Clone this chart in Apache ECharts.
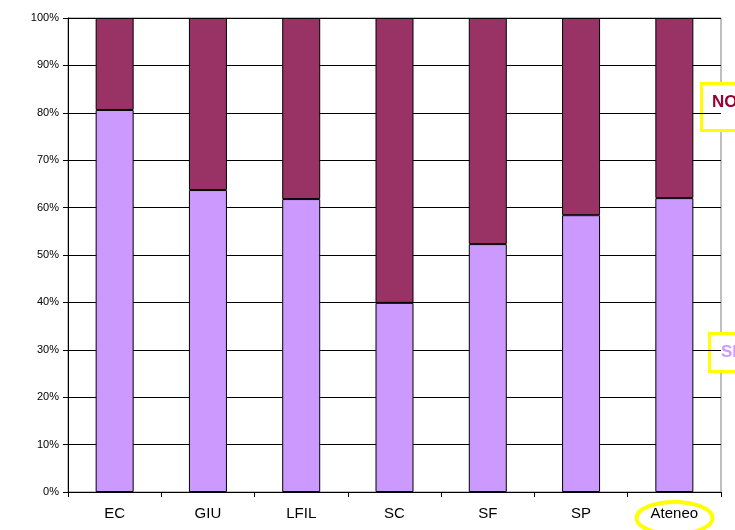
<!DOCTYPE html>
<html>
<head>
<meta charset="utf-8">
<script src="https://cdn.jsdelivr.net/npm/echarts@6/dist/echarts.min.js"></script>
<style>
  html, body { margin: 0; padding: 0; background: #fff; }
  #main { width: 735px; height: 530px; }
</style>
</head>
<body>
<div id="main"></div>
<script>
// categorie (facoltà)
const categories = ['EC', 'GIU', 'LFIL', 'SC', 'SF', 'SP', 'Ateneo']
// percentuali
const siValues = [80.6, 63.7, 61.8, 39.9, 52.3, 58.4, 62.0]
const noValues = [19.4, 36.3, 38.2, 60.1, 47.7, 41.6, 38.0]
const yTicks = [0, 10, 20, 30, 40, 50, 60, 70, 80, 90, 100]

const chart = echarts.init(document.getElementById('main'))

const font = 'Liberation Sans, Arial, sans-serif'

const option = {
  backgroundColor: '#fff',
  animation: false,
  grid: {
    left: 68,
    right: 14,
    top: 18,
    bottom: 38,
    show: true,
    borderColor: '#808080',
    borderWidth: 1
  },
  xAxis: {
    type: 'category',
    data: categories,
    axisLine: { lineStyle: { color: '#000', width: 1 } },
    axisTick: { show: true, length: 5, lineStyle: { color: '#000' } },
    axisLabel: {
      color: '#000',
      fontFamily: font,
      fontSize: 15,
      margin: 14
    }
  },
  yAxis: {
    type: 'value',
    min: yTicks[0],
    max: yTicks[yTicks.length - 1],
    interval: 10,
    axisLine: { show: true, lineStyle: { color: '#000', width: 1 } },
    axisTick: { show: true, length: 5, lineStyle: { color: '#000' } },
    splitLine: { lineStyle: { color: '#000', width: 1 } },
    axisLabel: {
      color: '#000',
      fontFamily: font,
      fontSize: 11,
      margin: 9,
      formatter: '{value}%'
    }
  },
  series: [
    {
      name: 'SI',
      type: 'bar',
      stack: 'tot',
      barWidth: 38,
      data: siValues,
      itemStyle: { color: '#CC99FF', borderColor: '#000', borderWidth: 1 }
    },
    {
      name: 'NO',
      type: 'bar',
      stack: 'tot',
      barWidth: 38,
      data: noValues,
      itemStyle: { color: '#993366', borderColor: '#000', borderWidth: 1 }
    }
  ],
  graphic: [
    {
      type: 'rect',
      shape: { x: 701.5, y: 83.5, width: 60, height: 47 },
      style: { fill: '#fff', stroke: '#FFFF00', lineWidth: 3 }
    },
    {
      type: 'text',
      x: 712,
      y: 102,
      style: {
        text: 'NO',
        fill: '#990033',
        font: 'bold 17px ' + font,
        textVerticalAlign: 'middle'
      }
    },
    {
      type: 'rect',
      shape: { x: 709.5, y: 333.5, width: 60, height: 38 },
      style: { fill: '#fff', stroke: '#FFFF00', lineWidth: 3 }
    },
    {
      type: 'text',
      x: 721,
      y: 352,
      style: {
        text: 'SI',
        fill: '#CC99FF',
        font: 'bold 17px ' + font,
        textVerticalAlign: 'middle'
      }
    },
    {
      type: 'ellipse',
      shape: { cx: 674.5, cy: 518, rx: 38, ry: 16 },
      style: { fill: 'none', stroke: '#FFFF00', lineWidth: 4 }
    }
  ]
}

chart.setOption(option)
</script>
</body>
</html>
